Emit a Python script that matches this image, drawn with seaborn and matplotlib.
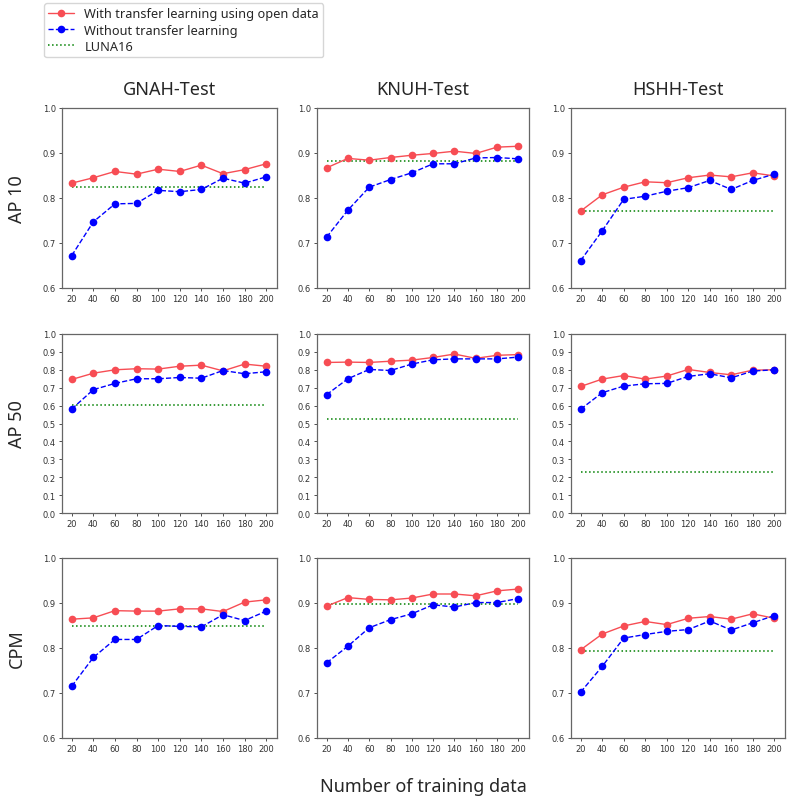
import numpy as np
import pandas as pd
import matplotlib
matplotlib.use("Agg")
import matplotlib.pyplot as plt
from matplotlib.lines import Line2D
import seaborn as sns

sns.set_style("white")
plt.rcParams['font.family'] = ['DejaVu Sans']

train_sizes = [20, 40, 60, 80, 100, 120, 140, 160, 180, 200]
datasets = ["GNAH-Test", "KNUH-Test", "HSHH-Test"]
metrics = ["AP 10", "AP 50", "CPM"]

# With transfer learning (rows: metric, cols: dataset)
gnah_ap10_tl = [0.833, 0.845, 0.859, 0.853, 0.864, 0.859, 0.873, 0.854, 0.863, 0.876]
knuh_ap10_tl = [0.867, 0.888, 0.884, 0.890, 0.895, 0.899, 0.904, 0.899, 0.913, 0.915]
hshh_ap10_tl = [0.771, 0.807, 0.824, 0.836, 0.834, 0.845, 0.851, 0.847, 0.856, 0.849]
gnah_ap50_tl = [0.746, 0.781, 0.800, 0.806, 0.804, 0.820, 0.826, 0.794, 0.832, 0.820]
knuh_ap50_tl = [0.841, 0.843, 0.841, 0.848, 0.854, 0.869, 0.888, 0.864, 0.881, 0.885]
hshh_ap50_tl = [0.707, 0.748, 0.768, 0.748, 0.765, 0.802, 0.785, 0.772, 0.798, 0.800]
gnah_cpm_tl = [0.864, 0.867, 0.883, 0.882, 0.882, 0.887, 0.887, 0.881, 0.902, 0.907]
knuh_cpm_tl = [0.893, 0.912, 0.908, 0.907, 0.911, 0.920, 0.920, 0.916, 0.927, 0.931]
hshh_cpm_tl = [0.796, 0.831, 0.849, 0.859, 0.852, 0.866, 0.870, 0.864, 0.876, 0.866]

# Without transfer learning
gnah_ap10_no = [0.672, 0.747, 0.787, 0.788, 0.817, 0.814, 0.819, 0.844, 0.833, 0.847]
knuh_ap10_no = [0.713, 0.773, 0.824, 0.841, 0.856, 0.876, 0.876, 0.889, 0.890, 0.887]
hshh_ap10_no = [0.661, 0.727, 0.797, 0.804, 0.815, 0.823, 0.839, 0.819, 0.839, 0.853]
gnah_ap50_no = [0.581, 0.689, 0.724, 0.750, 0.750, 0.757, 0.753, 0.796, 0.778, 0.789]
knuh_ap50_no = [0.661, 0.750, 0.802, 0.796, 0.832, 0.856, 0.861, 0.861, 0.861, 0.871]
hshh_ap50_no = [0.580, 0.672, 0.709, 0.722, 0.724, 0.763, 0.778, 0.755, 0.793, 0.800]
gnah_cpm_no = [0.715, 0.779, 0.819, 0.819, 0.850, 0.848, 0.847, 0.874, 0.861, 0.882]
knuh_cpm_no = [0.767, 0.804, 0.845, 0.863, 0.876, 0.896, 0.891, 0.901, 0.901, 0.910]
hshh_cpm_no = [0.702, 0.759, 0.822, 0.830, 0.837, 0.841, 0.860, 0.840, 0.856, 0.872]

# LUNA16 baseline
luna_ap10 = [0.824, 0.883, 0.771]
luna_ap50 = [0.606, 0.525, 0.231]
luna_cpm = [0.848, 0.898, 0.793]

tl = [[gnah_ap10_tl, knuh_ap10_tl, hshh_ap10_tl],
      [gnah_ap50_tl, knuh_ap50_tl, hshh_ap50_tl],
      [gnah_cpm_tl, knuh_cpm_tl, hshh_cpm_tl]]
no = [[gnah_ap10_no, knuh_ap10_no, hshh_ap10_no],
      [gnah_ap50_no, knuh_ap50_no, hshh_ap50_no],
      [gnah_cpm_no, knuh_cpm_no, hshh_cpm_no]]
luna = [luna_ap10, luna_ap50, luna_cpm]

W, H = 790, 804
fig = plt.figure(figsize=(W / 100, H / 100), dpi=100)

col_px = [(62, 277), (317, 529), (571, 785)]
row_px = [(109, 289), (335, 514), (559, 739)]

red = (0.97, 0.3, 0.33)
label_font = ['Noto Sans', 'DejaVu Sans']

for r in range(3):
    for c in range(3):
        x0, x1 = col_px[c]
        y0, y1 = row_px[r]
        ax = fig.add_axes([x0 / W, 1 - y1 / H, (x1 - x0) / W, (y1 - y0) / H])
        df = pd.DataFrame({"n": train_sizes, "tl": tl[r][c], "no": no[r][c],
                           "luna": [luna[r][c]] * len(train_sizes)})
        sns.lineplot(data=df, x="n", y="luna", ax=ax, color="green",
                     linestyle=":", linewidth=1.1)
        sns.lineplot(data=df, x="n", y="tl", ax=ax, color=red, marker="o",
                     markersize=5.5, markeredgewidth=0, linewidth=1.0)
        sns.lineplot(data=df, x="n", y="no", ax=ax, color="blue", marker="o",
                     markersize=5.5, markeredgewidth=0, linewidth=1.0,
                     linestyle="--")
        ax.set_xlim(11, 210)
        if r == 1:
            ax.set_ylim(0.0, 1.0)
            ax.set_yticks(np.arange(0, 1.01, 0.1))
        else:
            ax.set_ylim(0.6, 1.0)
            ax.set_yticks([0.6, 0.7, 0.8, 0.9, 1.0])
        ax.set_xticks(train_sizes)
        ax.set_xlabel("")
        ax.set_ylabel("")
        ax.tick_params(axis="both", labelsize=6, length=2.5, width=0.6,
                       pad=2, colors="#333333", left=True, bottom=True)
        for s in ax.spines.values():
            s.set_color("#666666")
            s.set_linewidth(0.9)
        if r == 0:
            ax.set_title(datasets[c], fontsize=13, pad=10, family=label_font)
        if c == 0:
            fig.text(17 / W, 1 - ((y0 + y1) / 2) / H, metrics[r], rotation=90,
                     ha="center", va="center", fontsize=13, family=label_font)

fig.text(423 / W, 1 - 787 / H, "Number of training data", ha="center",
         va="center", fontsize=13, family=label_font)

handles = [
    Line2D([], [], color=red, marker="o", markersize=5.5, markeredgewidth=0,
           linewidth=1.0),
    Line2D([], [], color="blue", marker="o", markersize=5.5, markeredgewidth=0,
           linewidth=1.0, linestyle="--"),
    Line2D([], [], color="green", linestyle=":", linewidth=1.1),
]
labels = ["With transfer learning using open data", "Without transfer learning",
          "LUNA16"]
fig.legend(handles, labels, loc="upper left", bbox_to_anchor=(44 / W, 1 - 4 / H),
           borderaxespad=0, frameon=True, handlelength=2.0, borderpad=0.35,
           labelspacing=0.25, prop={'family': label_font, 'size': 9.2})

fig.savefig("out.png", dpi=100)
